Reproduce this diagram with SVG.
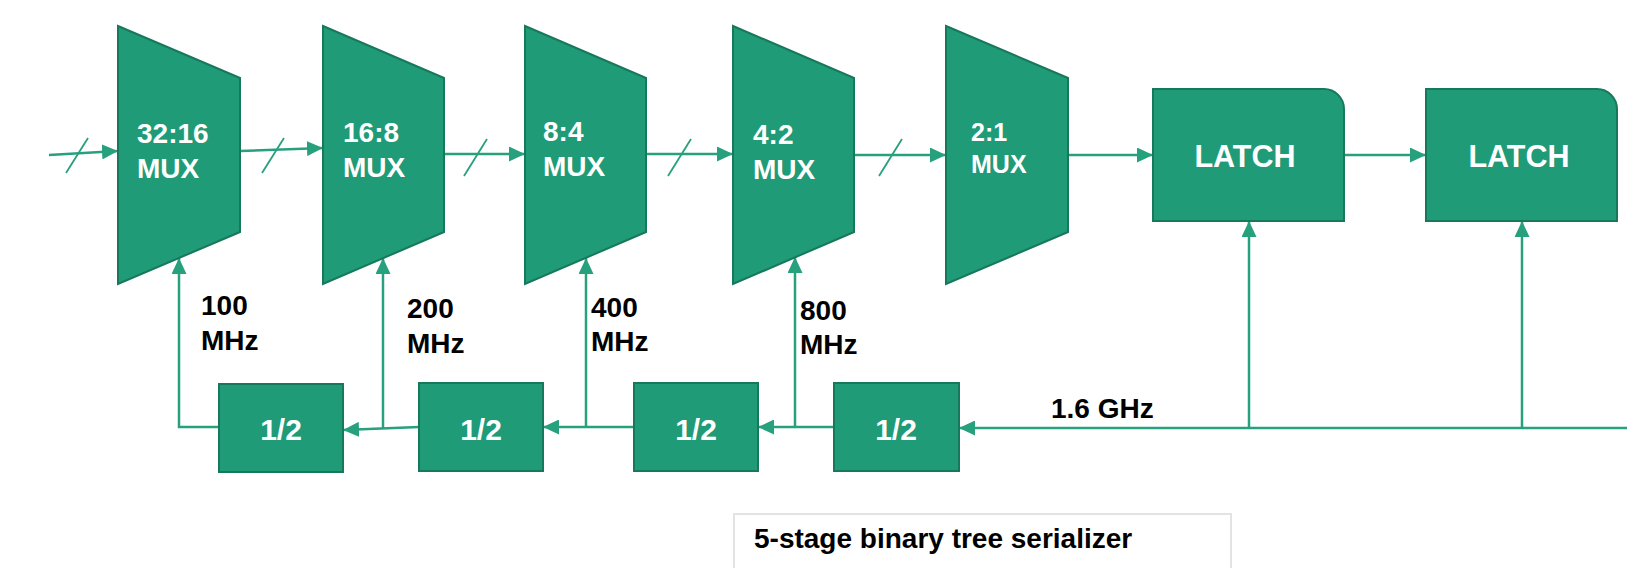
<svg xmlns="http://www.w3.org/2000/svg" width="1627" height="568" viewBox="0 0 1627 568">
<style>
.node{fill:#1f9b78;stroke:#17785c;stroke-width:2}
.w{fill:#ffffff;font-family:"Liberation Sans",Arial,sans-serif;font-weight:bold}
.k{fill:#000000;font-family:"Liberation Sans",Arial,sans-serif;font-weight:bold;font-size:28px}
.ln{fill:none;stroke:#27a07e;stroke-width:2.5}
.sl{fill:none;stroke:#27a07e;stroke-width:1.8}
</style>
<defs>
<marker id="ah" markerUnits="userSpaceOnUse" markerWidth="16" markerHeight="15" refX="16" refY="7.5" orient="auto">
<path d="M0,0 L16,7.5 L0,15 Z" fill="#27a07e"/>
</marker>
</defs>
<rect width="1627" height="568" fill="#ffffff"/>
<g id="connectors">
<line class="ln" x1="49" y1="155" x2="118" y2="151" marker-end="url(#ah)"/>
<line class="sl" x1="66" y1="173" x2="88" y2="138"/>
<line class="ln" x1="240" y1="151" x2="323" y2="148" marker-end="url(#ah)"/>
<line class="sl" x1="262" y1="173" x2="284" y2="138"/>
<line class="ln" x1="444" y1="154" x2="525" y2="154" marker-end="url(#ah)"/>
<line class="sl" x1="464" y1="176" x2="487" y2="139"/>
<line class="ln" x1="646" y1="154" x2="733" y2="154" marker-end="url(#ah)"/>
<line class="sl" x1="668" y1="176" x2="691" y2="139"/>
<line class="ln" x1="854" y1="155" x2="946" y2="155" marker-end="url(#ah)"/>
<line class="sl" x1="879" y1="176" x2="902" y2="139"/>
<line class="ln" x1="1068" y1="155" x2="1153" y2="155" marker-end="url(#ah)"/>
<line class="ln" x1="1344" y1="155" x2="1426" y2="155" marker-end="url(#ah)"/>
<line class="ln" x1="1627" y1="428" x2="959" y2="428" marker-end="url(#ah)"/>
<line class="ln" x1="1249" y1="428" x2="1249" y2="221" marker-end="url(#ah)"/>
<line class="ln" x1="1522" y1="428" x2="1522" y2="221" marker-end="url(#ah)"/>
<line class="ln" x1="834" y1="427" x2="758" y2="427" marker-end="url(#ah)"/>
<line class="ln" x1="795" y1="427" x2="795" y2="257" marker-end="url(#ah)"/>
<line class="ln" x1="634" y1="427" x2="543" y2="427" marker-end="url(#ah)"/>
<line class="ln" x1="586" y1="427" x2="586" y2="258" marker-end="url(#ah)"/>
<line class="ln" x1="419" y1="427" x2="343" y2="430" marker-end="url(#ah)"/>
<line class="ln" x1="383" y1="428" x2="383" y2="258" marker-end="url(#ah)"/>
<polyline class="ln" points="219,427 179,427 179,258" marker-end="url(#ah)"/>
</g>
<g id="mux1"><polygon class="node" points="118,26 240,78 240,232 118,284"/><text class="w" font-size="28" x="137" y="143">32:16</text><text class="w" font-size="28" x="137" y="178">MUX</text></g>
<g id="mux2"><polygon class="node" points="323,26 444,78 444,232 323,284"/><text class="w" font-size="28" x="343" y="142">16:8</text><text class="w" font-size="28" x="343" y="177">MUX</text></g>
<g id="mux3"><polygon class="node" points="525,26 646,78 646,232 525,284"/><text class="w" font-size="28" x="543" y="141">8:4</text><text class="w" font-size="28" x="543" y="176">MUX</text></g>
<g id="mux4"><polygon class="node" points="733,26 854,78 854,232 733,284"/><text class="w" font-size="28" x="753" y="144">4:2</text><text class="w" font-size="28" x="753" y="179">MUX</text></g>
<g id="mux5"><polygon class="node" points="946,26 1068,78 1068,232 946,284"/><text class="w" font-size="25" x="971" y="141">2:1</text><text class="w" font-size="25" x="971" y="173">MUX</text></g>
<g id="latch1"><path class="node" d="M1153,89 H1324 A20,20 0 0 1 1344,109 V221 H1153 Z"/><text class="w" font-size="30.5" x="1245" y="167" text-anchor="middle">LATCH</text></g>
<g id="latch2"><path class="node" d="M1426,89 H1597 A20,20 0 0 1 1617,109 V221 H1426 Z"/><text class="w" font-size="30.5" x="1519" y="167" text-anchor="middle">LATCH</text></g>
<g id="div1"><rect class="node" x="219" y="384" width="124" height="88"/><text class="w" font-size="30" x="281" y="440" text-anchor="middle">1/2</text></g>
<g id="div2"><rect class="node" x="419" y="383" width="124" height="88"/><text class="w" font-size="30" x="481" y="440" text-anchor="middle">1/2</text></g>
<g id="div3"><rect class="node" x="634" y="383" width="124" height="88"/><text class="w" font-size="30" x="696" y="440" text-anchor="middle">1/2</text></g>
<g id="div4"><rect class="node" x="834" y="383" width="125" height="88"/><text class="w" font-size="30" x="896" y="440" text-anchor="middle">1/2</text></g>
<g id="labels">
<text class="k" x="201" y="315">100</text><text class="k" x="201" y="350">MHz</text>
<text class="k" x="407" y="318">200</text><text class="k" x="407" y="353">MHz</text>
<text class="k" x="591" y="317">400</text><text class="k" x="591" y="351">MHz</text>
<text class="k" x="800" y="320">800</text><text class="k" x="800" y="354">MHz</text>
<text class="k" x="1051" y="418">1.6 GHz</text>
</g>
<g id="caption"><rect x="734" y="514" width="497" height="70" fill="#ffffff" stroke="#e3e3e3" stroke-width="2"/><text class="k" x="754" y="548">5-stage binary tree serializer</text></g>
</svg>
